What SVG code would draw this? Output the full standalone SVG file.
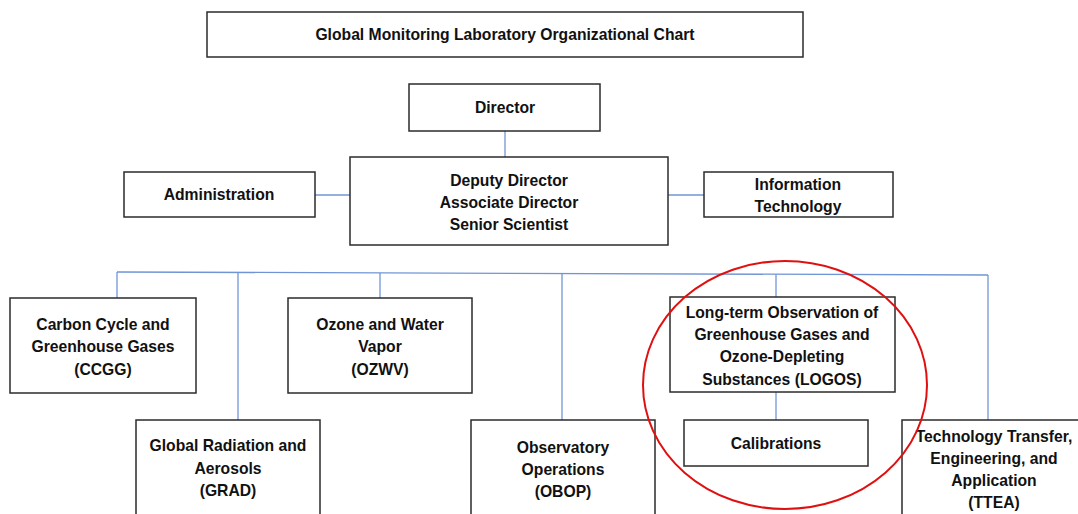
<svg xmlns="http://www.w3.org/2000/svg" width="1078" height="514" viewBox="0 0 1078 514">
  <style>
    .box { fill: #ffffff; stroke: #2b2b2b; stroke-width: 1.5; }
    .lbl { font-family: "Liberation Sans", Arial, sans-serif; font-weight: bold; font-size: 15.7px; fill: #111111; text-anchor: middle; dominant-baseline: middle; }
    .wire { stroke: #7095d6; stroke-width: 1.3; fill: none; }
  </style>
  <rect width="1078" height="514" fill="#ffffff"/>

  <!-- connectors -->
  <g id="connectors">
    <line class="wire" x1="505" y1="131" x2="505" y2="157"/>
    <line class="wire" x1="315" y1="195" x2="350" y2="195"/>
    <line class="wire" x1="668" y1="195" x2="704" y2="195"/>
    <line class="wire" x1="117" y1="272" x2="988" y2="275"/>
    <line class="wire" x1="117" y1="272" x2="117" y2="298"/>
    <line class="wire" x1="238" y1="272.4" x2="238" y2="420"/>
    <line class="wire" x1="380" y1="272.9" x2="380" y2="298"/>
    <line class="wire" x1="562" y1="273.5" x2="562" y2="420"/>
    <line class="wire" x1="776" y1="274.3" x2="776" y2="297"/>
    <line class="wire" x1="988" y1="275" x2="988" y2="420"/>
    <line class="wire" x1="776" y1="392" x2="776" y2="420"/>
  </g>

  <g id="title">
    <rect class="box" x="207" y="12" width="596" height="45"/>
    <text class="lbl" x="505" y="36">Global Monitoring Laboratory Organizational Chart</text>
  </g>

  <g id="director">
    <rect class="box" x="409" y="84" width="191" height="47"/>
    <text class="lbl" x="505" y="109">Director</text>
  </g>

  <g id="deputy">
    <rect class="box" x="350" y="157" width="318" height="88"/>
    <text class="lbl" x="509" y="182">Deputy Director</text>
    <text class="lbl" x="509" y="204">Associate Director</text>
    <text class="lbl" x="509" y="226">Senior Scientist</text>
  </g>

  <g id="administration">
    <rect class="box" x="124" y="172" width="191" height="45"/>
    <text class="lbl" x="219" y="196">Administration</text>
  </g>

  <g id="it">
    <rect class="box" x="704" y="172" width="189" height="45"/>
    <text class="lbl" x="798" y="186">Information</text>
    <text class="lbl" x="798" y="208">Technology</text>
  </g>

  <g id="ccgg">
    <rect class="box" x="10" y="298" width="186" height="95"/>
    <text class="lbl" x="103" y="326">Carbon Cycle and</text>
    <text class="lbl" x="103" y="348">Greenhouse Gases</text>
    <text class="lbl" x="103" y="371">(CCGG)</text>
  </g>

  <g id="ozwv">
    <rect class="box" x="288" y="298" width="184" height="95"/>
    <text class="lbl" x="380" y="326">Ozone and Water</text>
    <text class="lbl" x="380" y="348">Vapor</text>
    <text class="lbl" x="380" y="371">(OZWV)</text>
  </g>

  <g id="logos">
    <rect class="box" x="670" y="297" width="225" height="95"/>
    <text class="lbl" x="782" y="314">Long-term Observation of</text>
    <text class="lbl" x="782" y="336">Greenhouse Gases and</text>
    <text class="lbl" x="782" y="358">Ozone-Depleting</text>
    <text class="lbl" x="782" y="381">Substances (LOGOS)</text>
  </g>

  <g id="calibrations">
    <rect class="box" x="684" y="420" width="184" height="46"/>
    <text class="lbl" x="776" y="445">Calibrations</text>
  </g>

  <g id="grad">
    <rect class="box" x="136" y="420" width="184" height="100"/>
    <text class="lbl" x="228" y="447">Global Radiation and</text>
    <text class="lbl" x="228" y="470">Aerosols</text>
    <text class="lbl" x="228" y="492">(GRAD)</text>
  </g>

  <g id="obop">
    <rect class="box" x="471" y="420" width="184" height="100"/>
    <text class="lbl" x="563" y="449">Observatory</text>
    <text class="lbl" x="563" y="471">Operations</text>
    <text class="lbl" x="563" y="493">(OBOP)</text>
  </g>

  <g id="ttea">
    <rect class="box" x="902" y="420" width="190" height="100"/>
    <text class="lbl" x="994" y="438">Technology Transfer,</text>
    <text class="lbl" x="994" y="460">Engineering, and</text>
    <text class="lbl" x="994" y="482">Application</text>
    <text class="lbl" x="994" y="504">(TTEA)</text>
  </g>

  <!-- highlight ring -->
  <ellipse id="highlight" cx="785" cy="385" rx="142" ry="124" fill="none" stroke="#e01010" stroke-width="2"/>
</svg>
